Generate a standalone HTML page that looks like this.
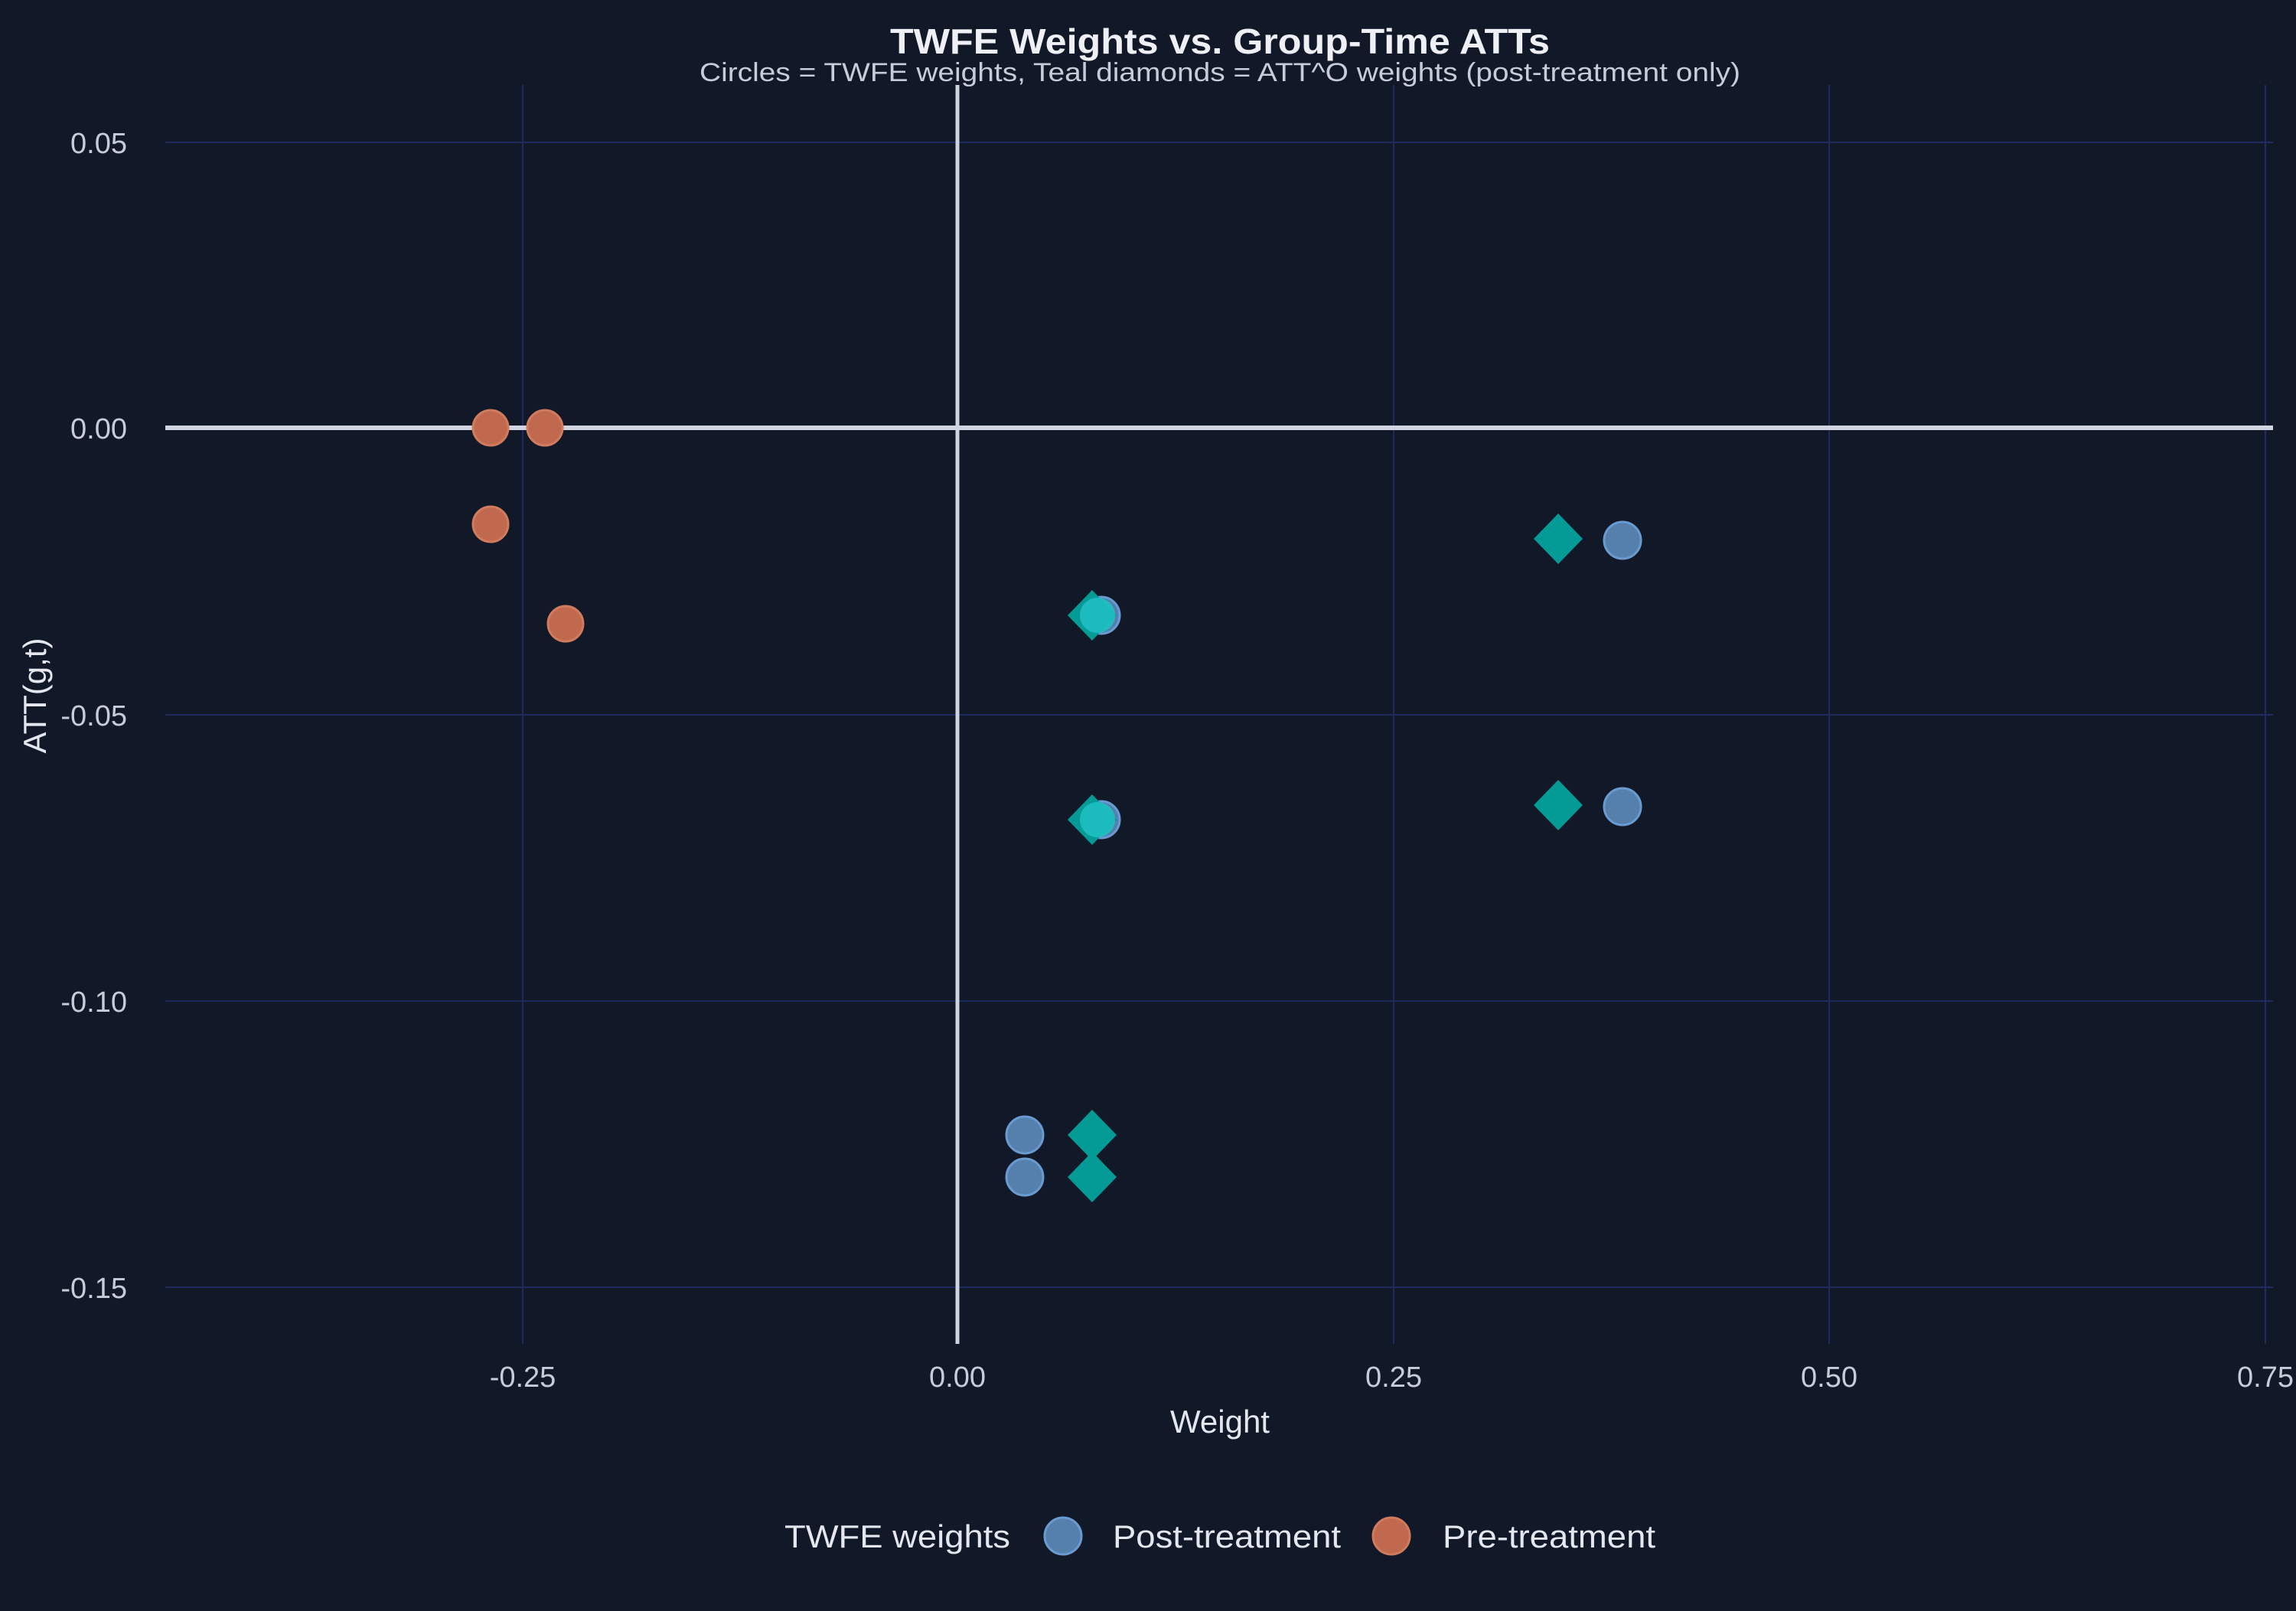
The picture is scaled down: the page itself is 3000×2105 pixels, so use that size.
<!DOCTYPE html>
<html><head><style>html,body{margin:0;padding:0;background:#111827;}</style></head>
<body>
<svg width="3000" height="2100" xmlns="http://www.w3.org/2000/svg" font-family="Liberation Sans, sans-serif">
<rect width="3000" height="2100" fill="#111827"/>
<g stroke="#1f2b5c" stroke-width="2">
<line x1="683" y1="111" x2="683" y2="1756"/>
<line x1="1821" y1="111" x2="1821" y2="1756"/>
<line x1="2390" y1="111" x2="2390" y2="1756"/>
<line x1="2960" y1="111" x2="2960" y2="1756"/>
<line x1="216" y1="186" x2="2970" y2="186"/>
<line x1="216" y1="934" x2="2970" y2="934"/>
<line x1="216" y1="1308" x2="2970" y2="1308"/>
<line x1="216" y1="1682" x2="2970" y2="1682"/>
</g>
<line x1="1251" y1="111" x2="1251" y2="1756" stroke="#d0d4e0" stroke-width="5"/>
<line x1="216" y1="559" x2="2970" y2="559" stroke="#d0d4e0" stroke-width="6"/>
<g fill="#c0694f" stroke="#d07a5e" stroke-width="3">
<circle cx="641" cy="559" r="23"/><circle cx="712" cy="559" r="23"/>
<circle cx="641" cy="685" r="23"/><circle cx="739" cy="815" r="23"/>
</g>
<g fill="#5580ad" stroke="#6a9bd0" stroke-width="3">
<circle cx="2120" cy="706" r="24"/><circle cx="1439" cy="804" r="24"/>
<circle cx="1439" cy="1071" r="24"/><circle cx="2120" cy="1054" r="24"/>
<circle cx="1339" cy="1483" r="24"/><circle cx="1339" cy="1538" r="24"/>
</g>
<g fill="#049b96">
<path d="M2036 671 L2068 704 L2036 737 L2004 704Z"/>
<path d="M2036 1019 L2068 1052 L2036 1085 L2004 1052Z"/>
<path d="M1427 771 L1459 804 L1427 837 L1395 804Z"/>
<path d="M1427 1038 L1459 1071 L1427 1104 L1395 1071Z"/>
<path d="M1427 1450 L1459 1483 L1427 1516 L1395 1483Z"/>
<path d="M1427 1505 L1459 1538 L1427 1571 L1395 1538Z"/>
</g>
<g fill="#1fc0c2" opacity="0.9">
<circle cx="1434" cy="804" r="23"/><circle cx="1434" cy="1071" r="23"/>
</g>
<text x="1594" y="70" text-anchor="middle" font-size="46" font-weight="bold" fill="#eef0f5" textLength="862" lengthAdjust="spacingAndGlyphs">TWFE Weights vs. Group-Time ATTs</text>
<text x="1594" y="106" text-anchor="middle" font-size="34" fill="#c8ccd8" textLength="1360" lengthAdjust="spacingAndGlyphs">Circles = TWFE weights, Teal diamonds = ATT^O weights (post-treatment only)</text>
<g font-size="38" fill="#c8ccd8" text-anchor="end">
<text x="166" y="200">0.05</text>
<text x="166" y="573">0.00</text>
<text x="166" y="948">-0.05</text>
<text x="166" y="1322">-0.10</text>
<text x="166" y="1696">-0.15</text>
</g>
<g font-size="38" fill="#c8ccd8" text-anchor="middle">
<text x="683" y="1812">-0.25</text>
<text x="1251" y="1812">0.00</text>
<text x="1821" y="1812">0.25</text>
<text x="2390" y="1812">0.50</text>
<text x="2960" y="1812">0.75</text>
</g>
<text x="1594" y="1872" text-anchor="middle" font-size="42" fill="#e4e7ee">Weight</text>
<text transform="translate(60,909) rotate(-90)" text-anchor="middle" font-size="42" fill="#e4e7ee">ATT(g,t)</text>
<g font-size="42" fill="#e4e7ee">
<text x="1025" y="2022" textLength="295" lengthAdjust="spacingAndGlyphs">TWFE weights</text>
<text x="1454" y="2022" textLength="298" lengthAdjust="spacingAndGlyphs">Post-treatment</text>
<text x="1885" y="2022" textLength="278" lengthAdjust="spacingAndGlyphs">Pre-treatment</text>
</g>
<circle cx="1389" cy="2007" r="24" fill="#5580ad" stroke="#6a9bd0" stroke-width="3"/>
<circle cx="1818" cy="2007" r="24" fill="#c0694f" stroke="#d07a5e" stroke-width="3"/>
</svg>
</body></html>
